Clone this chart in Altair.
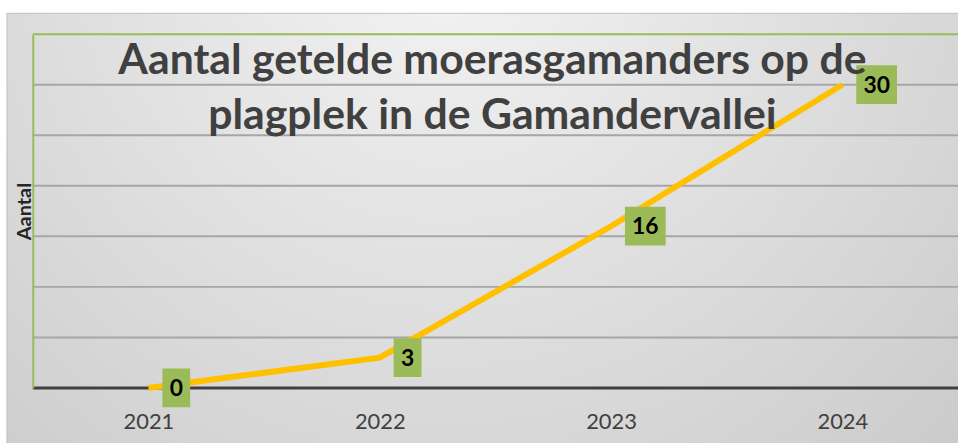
import altair as alt
import pandas as pd

years = [2021, 2022, 2023, 2024]
counts = [0, 3, 16, 30]
grid_values = [5, 10, 15, 20, 25, 30]
top_value = [35]
base_value = [0]
title_lines = ["Aantal getelde moerasgamanders op de", "plagplek in de Gamandervallei"]
y_title = "Aantal"

df = pd.DataFrame({"jaar": years, "aantal": counts})
grid_df = pd.DataFrame({"v": grid_values})
top_df = pd.DataFrame({"v": top_value})
base_df = pd.DataFrame({"v": base_value})

W, H = 931, 356
xscale = alt.Scale(domain=[2020.5, 2024.5], nice=False, zero=False)
yscale = alt.Scale(domain=[0, 35], nice=False)

GREEN = "#9BBB59"

yaxis = alt.Axis(title=y_title, labels=False, ticks=False, grid=False,
                 domain=True, domainColor=GREEN, domainWidth=2,
                 titleFont="Lato", titleFontSize=20, titleFontWeight="bold",
                 titleColor="#262626", titlePadding=-2, zindex=1)
xaxis = alt.Axis(values=years, format="d", title=None, ticks=False, domain=False,
                 grid=False, labelFont="Lato", labelFontSize=22, labelColor="#404040",
                 labelPadding=24, zindex=1)

bg = alt.Chart(base_df).mark_rect(
    fill=alt.RadialGradient(
        gradient="radial", x1=0.45, y1=0.2, r1=0, x2=0.45, y2=0.2, r2=0.8,
        stops=[alt.GradientStop(offset=0, color="#f4f4f4"),
               alt.GradientStop(offset=1, color="#c8c8c8")]),
    stroke="#c0c0c0", strokeWidth=1,
).encode(x=alt.value(-26), x2=alt.value(W + 20), y=alt.value(-21), y2=alt.value(H + 60))

grid = alt.Chart(grid_df).mark_rule(color="#a6a6a6", strokeWidth=2).encode(
    y=alt.Y("v:Q", scale=yscale, axis=yaxis))

top = alt.Chart(top_df).mark_rule(color=GREEN, strokeWidth=2).encode(
    y=alt.Y("v:Q", scale=yscale, axis=yaxis))

base = alt.Chart(base_df).mark_rule(color="#404040", strokeWidth=3).encode(
    y=alt.Y("v:Q", scale=yscale, axis=yaxis))

line = alt.Chart(df).mark_line(color="#FFC000", strokeWidth=6).encode(
    x=alt.X("jaar:Q", scale=xscale, axis=xaxis),
    y=alt.Y("aantal:Q", scale=yscale, axis=yaxis),
)

def boxes(filt, w):
    b = alt.Chart(df).transform_filter(filt).mark_rect(
        color=GREEN, width=w, height=39, xOffset=14 + w / 2).encode(
        x=alt.X("jaar:Q", scale=xscale, axis=xaxis),
        y=alt.Y("aantal:Q", scale=yscale, axis=yaxis))
    t = alt.Chart(df).transform_filter(filt).mark_text(
        font="Lato", fontSize=23, fontWeight="bold", color="black",
        dx=14 + w / 2, dy=1).encode(
        x=alt.X("jaar:Q", scale=xscale, axis=xaxis),
        y=alt.Y("aantal:Q", scale=yscale, axis=yaxis),
        text="aantal:Q")
    return b + t

small = boxes("datum.aantal < 10", 28)
big = boxes("datum.aantal >= 10", 41)

chart = alt.layer(bg, grid, top, base, line, small, big).properties(
    width=W, height=H,
    title=alt.TitleParams(text=title_lines, font="Lato", fontSize=43, fontWeight="bold",
                          color="#404040", anchor="middle", frame="group", lineHeight=55,
                          offset=0, dy=126, dx=-3),
    padding={"left": 33, "top": 33, "right": 0, "bottom": 54},
    autosize=alt.AutoSizeParams(type="none"),
).configure_view(stroke=None).configure(background="white")

chart.save("out.html", embed_options={"renderer": "svg", "actions": False})
